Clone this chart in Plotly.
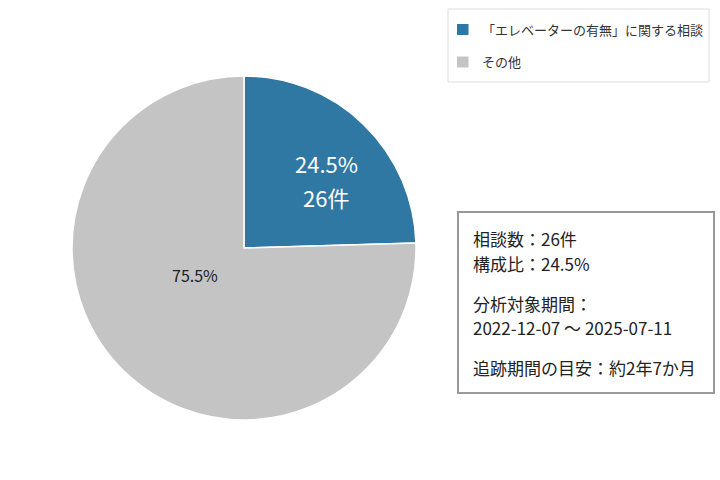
import plotly.graph_objects as go

# ---- data ----
labels = ["「エレベーターの有無」に関する相談", "その他"]
values = [26, 80]
colors = ["#2f78a3", "#c4c4c4"]
info_lines = [
    "相談数：26件",
    "構成比：24.5%",
    "分析対象期間：",
    "2022-12-07 〜 2025-07-11",
    "追跡期間の目安：約2年7か月",
]

W, H = 720, 480
FONT = "Noto Sans CJK JP"


def fx(x):
    return x / W


def fy(y):
    return 1 - y / H


total = sum(values)
pcts = [v / total * 100 for v in values]

fig = go.Figure()
fig.add_trace(go.Pie(
    labels=labels,
    values=values,
    sort=False,
    direction="clockwise",
    rotation=0,
    marker=dict(colors=colors, line=dict(color="white", width=1.5)),
    textinfo="none",
    hoverinfo="label+value+percent",
    showlegend=False,
    domain=dict(x=[fx(72), fx(416)], y=[fy(420), fy(76)]),
))

annotations = [
    # slice labels
    dict(x=fx(326), y=fy(163), xref="paper", yref="paper", showarrow=False,
         text=f"{pcts[0]:.1f}%",
         font=dict(family=FONT, size=22, color="white")),
    dict(x=fx(326), y=fy(197), xref="paper", yref="paper", showarrow=False,
         text=f"{values[0]}件",
         font=dict(family=FONT, size=22, color="white")),
    dict(x=fx(170), y=fy(275), xref="paper", yref="paper", showarrow=False,
         text=f"{pcts[1]:.1f}%",
         font=dict(family=FONT, size=16, color="#222222")),
]

# info box lines (one annotation per line)
line_y = [238, 263, 303, 327, 367]
for txt, yc in zip(info_lines, line_y):
    annotations.append(dict(x=fx(471), y=fy(yc), xref="paper", yref="paper",
                            showarrow=False, xanchor="left", yanchor="middle",
                            align="left", text=txt,
                            font=dict(family=FONT, size=17, color="#222222")))

# legend entries (custom)
legend_rows = [29.5, 62]
shapes = [
    dict(type="rect", xref="paper", yref="paper",
         x0=fx(448), x1=fx(709), y0=fy(82), y1=fy(9),
         line=dict(color="#dddddd", width=1), fillcolor="white", layer="below"),
    dict(type="rect", xref="paper", yref="paper",
         x0=fx(458), x1=fx(714), y0=fy(393), y1=fy(212),
         line=dict(color="#999999", width=2), fillcolor="white", layer="below"),
]
for lab, col, yc in zip(labels, colors, legend_rows):
    shapes.append(dict(type="rect", xref="paper", yref="paper",
                       x0=fx(457), x1=fx(468.5), y0=fy(yc + 5.5), y1=fy(yc - 5.5),
                       line=dict(width=0), fillcolor=col))
    annotations.append(dict(x=fx(480), y=fy(yc), xref="paper", yref="paper",
                            showarrow=False, xanchor="left", yanchor="middle",
                            text=lab, font=dict(family=FONT, size=13, color="#333333")))

fig.update_layout(
    width=W, height=H,
    margin=dict(l=0, r=0, t=0, b=0),
    paper_bgcolor="white",
    plot_bgcolor="white",
    font=dict(family=FONT),
    annotations=annotations,
    shapes=shapes,
)

fig.write_html("out.html",
               config={"displayModeBar": False},
               post_script="document.body.style.margin='0';document.body.style.overflow='hidden';")
